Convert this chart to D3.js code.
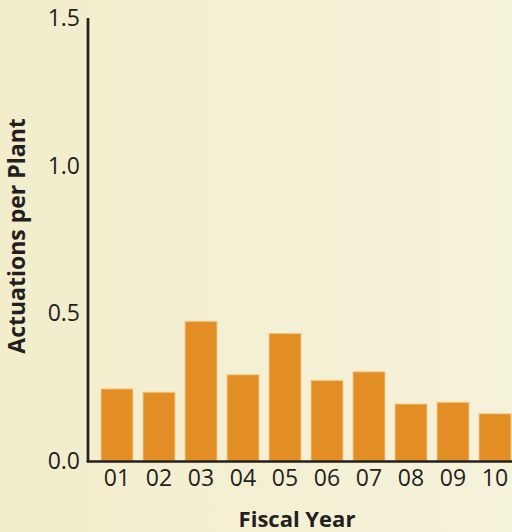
<!DOCTYPE html>
<html>
<head>
<meta charset="utf-8">
<script src="https://cdn.jsdelivr.net/npm/d3@7"></script>
<style>
  html, body { margin: 0; padding: 0; overflow: hidden; }
  svg { display: block; }
</style>
</head>
<body>
<svg id="chart" width="512" height="532"></svg>
<script>
const categories = ["01", "02", "03", "04", "05", "06", "07", "08", "09", "10"];
const values = [0.244, 0.233, 0.473, 0.292, 0.432, 0.273, 0.302, 0.193, 0.199, 0.160];
const yTicks = [0.0, 0.5, 1.0, 1.5];
const yTitle = "Actuations per Plant";
const xTitle = "Fiscal Year";

const W = 512, H = 532;
const svg = d3.select("#chart");

const defs = svg.append("defs");
const grad = defs.append("linearGradient").attr("id", "bg").attr("x1", "0").attr("x2", "1").attr("y1", "0").attr("y2", "0");
grad.append("stop").attr("offset", "0%").attr("stop-color", "#F2EDCB");
grad.append("stop").attr("offset", "100%").attr("stop-color", "#F5F2DA");
svg.append("rect").attr("width", W).attr("height", H).attr("fill", "url(#bg)");

const x = d3.scaleBand().domain(categories).range([96, 516]).paddingInner(0.238).paddingOuter(0.119);
const y = d3.scaleLinear().domain([0, 1.5]).range([461, 18]);

const font = "'Open Sans', 'Noto Sans', sans-serif";

// bars
svg.append("g").selectAll("rect").data(values).join("rect")
  .attr("x", (d, i) => x(categories[i]))
  .attr("y", d => y(d))
  .attr("width", x.bandwidth())
  .attr("height", d => y(0) - y(d))
  .attr("fill", "#E28E25")
  .attr("stroke", "#F3C98A")
  .attr("stroke-width", 1);

// y axis
const yAxis = d3.axisLeft(y).tickValues(yTicks).tickFormat(d3.format(".1f")).tickSize(0).tickPadding(8);
const gy = svg.append("g").attr("transform", "translate(88,0)").call(yAxis);
gy.select(".domain").remove();
gy.selectAll("text").attr("font-family", font).attr("font-size", 23).attr("fill", "#231F20");
svg.append("line").attr("x1", 88).attr("x2", 88).attr("y1", y(1.5)).attr("y2", y(0) + 1.3)
  .attr("stroke", "#231F20").attr("stroke-width", 2.7);

// x axis
const xAxis = d3.axisBottom(x).tickSize(0).tickPadding(8);
const gx = svg.append("g").attr("transform", "translate(0,461.5)").call(xAxis);
gx.select(".domain").remove();
gx.selectAll("text").attr("font-family", font).attr("font-size", 23).attr("fill", "#231F20");
svg.append("line").attr("x1", 86.7).attr("x2", W).attr("y1", 461.5).attr("y2", 461.5)
  .attr("stroke", "#231F20").attr("stroke-width", 2.7);

// titles
svg.append("text").attr("x", 297).attr("y", 527).attr("text-anchor", "middle")
  .attr("font-family", font).attr("font-weight", "bold").attr("font-size", 22).attr("fill", "#231F20")
  .text(xTitle);
svg.append("text").attr("transform", "translate(25,236) rotate(-90)").attr("text-anchor", "middle")
  .attr("font-family", font).attr("font-weight", "bold").attr("font-size", 23).attr("fill", "#231F20")
  .text(yTitle);
</script>
</body>
</html>
